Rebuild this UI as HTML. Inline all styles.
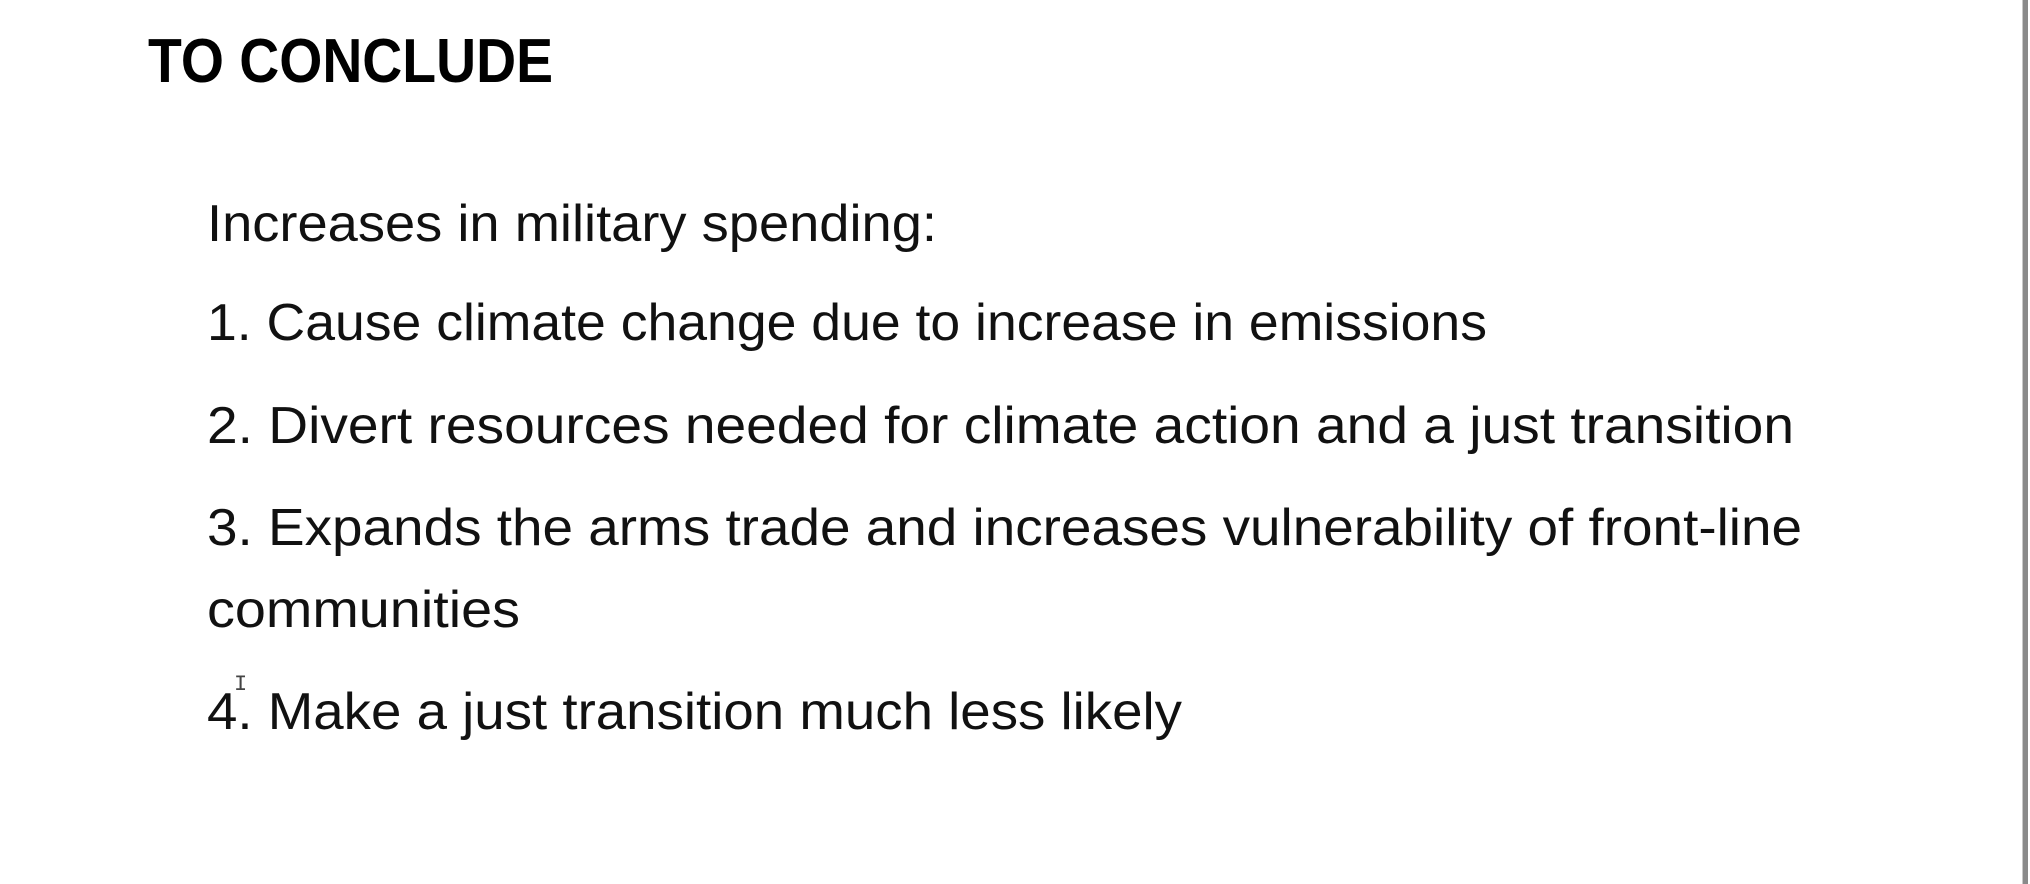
<!DOCTYPE html>
<html>
<head>
<meta charset="utf-8">
<style>
html,body{margin:0;padding:0;background:#fff;}
body{width:2030px;height:884px;overflow:hidden;position:relative;font-family:"Liberation Sans",sans-serif;}
svg{position:absolute;left:0;top:0;}
</style>
</head>
<body>
<svg width="2030" height="884">
  <rect x="0" y="0" width="2030" height="884" fill="#ffffff"/>
  <text x="148" y="82" font-family="Liberation Sans, sans-serif" font-weight="bold" font-size="62" fill="#000" textLength="405" lengthAdjust="spacingAndGlyphs">TO CONCLUDE</text>
  <g font-family="Liberation Sans, sans-serif" font-size="52" fill="#111">
    <text x="207" y="241" textLength="730" lengthAdjust="spacingAndGlyphs">Increases in military spending:</text>
    <text x="207" y="340" textLength="1280" lengthAdjust="spacingAndGlyphs">1. Cause climate change due to increase in emissions</text>
    <text x="207" y="443" textLength="1587" lengthAdjust="spacingAndGlyphs">2. Divert resources needed for climate action and a just transition</text>
    <text x="207" y="545" textLength="1595" lengthAdjust="spacingAndGlyphs">3. Expands the arms trade and increases vulnerability of front-line</text>
    <text x="207" y="627" textLength="313" lengthAdjust="spacingAndGlyphs">communities</text>
    <text x="207" y="729" textLength="975" lengthAdjust="spacingAndGlyphs">4. Make a just transition much less likely</text>
  </g>
  <text x="234" y="690" font-family="Liberation Mono, monospace" font-size="22" fill="#444">I</text>
  <rect x="2023" y="0" width="5" height="884" fill="#8a8a8a"/>
  <rect x="2022" y="0" width="1" height="884" fill="#c8c8c8"/>
</svg>
</body>
</html>
